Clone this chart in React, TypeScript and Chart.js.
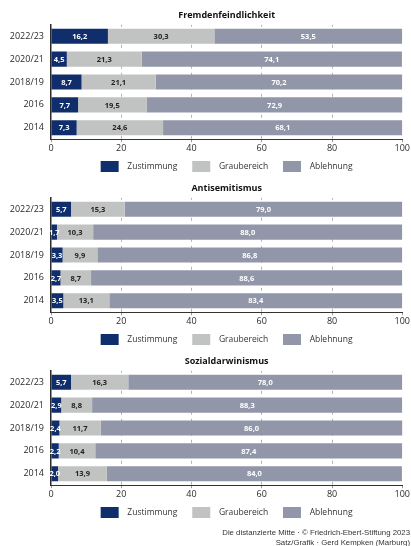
import React, { useEffect, useRef } from 'react';
import { Chart, registerables } from 'chart.js';

Chart.register(...registerables);

const years = ['2022/23', '2020/21', '2018/19', '2016', '2014'];
const seriesNames = ['Zustimmung', 'Graubereich', 'Ablehnung'];
const seriesColors = ['#112e6c', '#c1c2c2', '#9296a9'];
const xTicks = [0, 20, 40, 60, 80, 100];

const fremdTitle = 'Fremdenfeindlichkeit';
const fremdZ = [16.2, 4.5, 8.7, 7.7, 7.3];
const fremdG = [30.3, 21.3, 21.1, 19.5, 24.6];
const fremdA = [53.5, 74.1, 70.2, 72.9, 68.1];

const antiTitle = 'Antisemitismus';
const antiZ = [5.7, 1.7, 3.3, 2.7, 3.5];
const antiG = [15.3, 10.3, 9.9, 8.7, 13.1];
const antiA = [79.0, 88.0, 86.8, 88.6, 83.4];

const sozTitle = 'Sozialdarwinismus';
const sozZ = [5.7, 2.9, 2.4, 2.2, 2.0];
const sozG = [16.3, 8.8, 11.7, 10.4, 13.9];
const sozA = [78.0, 88.3, 86.0, 87.4, 84.0];

const FONT = '"Open Sans", sans-serif';

const valueLabels = {
  id: 'valueLabels',
  afterDatasetsDraw(chart: any) {
    const { ctx } = chart;
    ctx.save();
    ctx.font = `bold 7.5px ${FONT}`;
    ctx.textAlign = 'center';
    ctx.textBaseline = 'middle';
    chart.data.datasets.forEach((ds: any, i: number) => {
      const meta = chart.getDatasetMeta(i);
      meta.data.forEach((el: any, j: number) => {
        const p = el.getProps(['x', 'base', 'y'], true);
        const v = ds.data[j] as number;
        ctx.fillStyle = i === 1 ? '#222222' : '#ffffff';
        ctx.fillText(v.toFixed(1).replace('.', ','), (p.x + p.base) / 2, p.y + 0.5);
      });
    });
    ctx.restore();
  },
};

function Panel({ title, z, g, a, top }: { title: string; z: number[]; g: number[]; a: number[]; top: number }) {
  const ref = useRef<HTMLCanvasElement | null>(null);
  useEffect(() => {
    if (!ref.current) return;
    const values = [z, g, a];
    const chart = new Chart(ref.current, {
      type: 'bar',
      data: {
        labels: years,
        datasets: seriesNames.map((name, i) => ({
          label: name,
          data: values[i],
          backgroundColor: seriesColors[i],
          borderWidth: 0,
          barPercentage: 0.66,
          categoryPercentage: 1,
        })),
      },
      options: {
        indexAxis: 'y',
        responsive: false,
        animation: false,
        layout: { padding: { left: 0, right: 8, top: 0, bottom: 0 } },
        scales: {
          x: {
            stacked: true,
            min: 0,
            max: 100,
            afterBuildTicks: (s: any) => {
              s.ticks = xTicks.map((v) => ({ value: v }));
            },
            grid: {
              color: (c: any) => (c.tick && (c.tick.value === 0 || c.tick.value === 100) ? 'rgba(0,0,0,0)' : '#b4b4b4'),
              tickColor: '#999999',
              tickLength: 3,
              lineWidth: 1,
            },
            border: { display: true, color: '#333333', width: 1, dash: [3, 4], dashOffset: 1 },
            ticks: { padding: 1, font: { family: FONT, size: 9 }, color: '#2a2a2a', maxRotation: 0 },
          },
          y: {
            stacked: true,
            grid: { display: false, drawTicks: false },
            border: { display: true, color: '#2a2a2a', width: 1.5 },
            ticks: { padding: 7, font: { family: FONT, size: 9 }, color: '#2a2a2a' },
            afterFit: (s: any) => {
              s.width = 51;
            },
          },
        },
        plugins: {
          title: {
            display: true,
            text: title,
            fullSize: false,
            color: '#111111',
            font: { family: FONT, size: 9, weight: 'bold' },
            padding: { top: 10, bottom: 4 },
          },
          legend: {
            display: true,
            position: 'bottom',
            fullSize: false,
            labels: {
              boxWidth: 18,
              boxHeight: 11,
              padding: 6,
              color: '#333333',
              font: { family: FONT, size: 8.5 },
              generateLabels: (ch: any) => {
                const items = (Chart.defaults.plugins.legend.labels as any).generateLabels(ch);
                return items.map((it: any, i: number) => ({
                  ...it,
                  text: '  ' + it.text + (i < items.length - 1 ? '    ' : ''),
                  lineWidth: 0,
                }));
              },
            },
          },
          tooltip: { enabled: false },
        },
      },
      plugins: [valueLabels],
    } as any);
    return () => chart.destroy();
  }, [title, z, g, a]);
  return (
    <canvas
      ref={ref}
      width={411}
      height={182}
      style={{ position: 'absolute', left: 0, top, width: 411, height: 182 }}
    />
  );
}

export default function App() {
  return (
    <div style={{ position: 'absolute', left: 0, top: 0, width: 411, height: 546, background: '#ffffff', overflow: 'hidden' }}>
      <Panel title={fremdTitle} z={fremdZ} g={fremdG} a={fremdA} top={0} />
      <Panel title={antiTitle} z={antiZ} g={antiG} a={antiA} top={173} />
      <Panel title={sozTitle} z={sozZ} g={sozG} a={sozA} top={346} />
      <div
        style={{
          position: 'absolute',
          right: 1,
          top: 528,
          textAlign: 'right',
          fontFamily: '"Liberation Sans", Arial, sans-serif',
          fontSize: '7.8px',
          lineHeight: '10px',
          color: '#333333',
          whiteSpace: 'nowrap',
        }}
      >
        <div>Die distanzierte Mitte · © Friedrich-Ebert-Stiftung 2023</div>
        <div>Satz/Grafik · Gerd Kempken (Marburg)</div>
      </div>
    </div>
  );
}
